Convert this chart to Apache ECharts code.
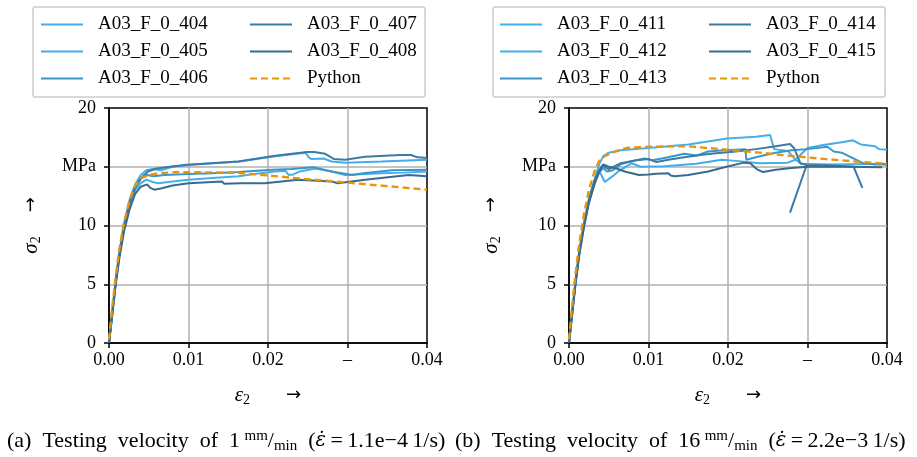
<!DOCTYPE html>
<html>
<head>
<meta charset="utf-8">
<script src="https://cdn.jsdelivr.net/npm/echarts@6/dist/echarts.min.js"></script>
<style>
  html, body { margin: 0; padding: 0; background: #fff; }
  #chart { width: 917px; height: 457px; }
</style>
</head>
<body>
<div id="chart"></div>
<script>
// Stress-strain curves of the A03_F_0 specimens at two testing velocities.
const xTickLabels = ['0.00', '0.01', '0.02', '–', '0.04'];
const yTickLabels = ['0', '5', '10', 'MPa', '20'];

const namesA = ['A03_F_0_404', 'A03_F_0_405', 'A03_F_0_406', 'A03_F_0_407', 'A03_F_0_408', 'Python'];
const namesB = ['A03_F_0_411', 'A03_F_0_412', 'A03_F_0_413', 'A03_F_0_414', 'A03_F_0_415', 'Python '];

// [strain, stress in MPa] – 1 mm/min
const s404 = [[0,0],[0.0004,2.4],[0.0008,4.9],[0.0013,7.5],[0.0019,9.9],[0.0026,11.9],[0.0033,13.0],[0.004,13.6],[0.0047,13.9],[0.0055,13.7],[0.0062,13.6],[0.008,13.75],[0.01,13.9],[0.013,14.05],[0.0163,14.2],[0.019,14.45],[0.0209,14.6],[0.0222,14.65],[0.0226,14.3],[0.0232,14.35],[0.024,14.6],[0.026,14.85],[0.028,14.6],[0.0297,14.3],[0.0343,14.45],[0.037,14.5],[0.04,14.6]];
const s405 = [[0,0],[0.0004,2.6],[0.0008,5.1],[0.0013,7.8],[0.0019,10.2],[0.0026,12.2],[0.0033,13.5],[0.004,14.3],[0.0047,14.7],[0.0055,14.8],[0.0065,14.7],[0.008,15.0],[0.01,15.15],[0.0163,15.45],[0.0209,15.9],[0.0247,16.2],[0.0252,15.75],[0.0255,15.65],[0.027,15.7],[0.028,15.45],[0.0297,15.35],[0.0343,15.45],[0.04,15.6]];
const s406 = [[0,0],[0.0004,2.5],[0.0008,5.0],[0.0013,7.6],[0.0019,10.0],[0.0026,12.0],[0.0033,13.3],[0.004,14.0],[0.0048,14.3],[0.0056,14.2],[0.007,14.3],[0.01,14.38],[0.013,14.45],[0.0163,14.55],[0.0205,14.75],[0.023,14.8],[0.0257,14.95],[0.028,14.6],[0.0306,14.3],[0.032,14.45],[0.0356,14.7],[0.04,14.75]];
const s407 = [[0,0],[0.0004,2.5],[0.0008,4.9],[0.0013,7.5],[0.0019,9.9],[0.0026,11.9],[0.0033,13.2],[0.004,14.0],[0.0049,14.6],[0.006,14.85],[0.0079,15.03],[0.0098,15.17],[0.0163,15.45],[0.0209,15.94],[0.0249,16.25],[0.0258,16.25],[0.0272,16.1],[0.0283,15.65],[0.0297,15.6],[0.0322,15.85],[0.0366,16.0],[0.038,16.0],[0.0388,15.8],[0.04,15.75]];
const s408 = [[0,0],[0.0004,2.3],[0.0008,4.7],[0.0013,7.2],[0.0019,9.5],[0.0026,11.4],[0.0033,12.7],[0.004,13.3],[0.0048,13.5],[0.0052,13.2],[0.0057,13.05],[0.0065,13.15],[0.008,13.4],[0.01,13.6],[0.0142,13.75],[0.0145,13.55],[0.0165,13.6],[0.0196,13.6],[0.0238,13.9],[0.028,13.75],[0.0288,13.6],[0.0322,13.9],[0.0377,14.3],[0.04,14.2]];
const pyA = [[0,0.3],[0.0004,3.0],[0.0008,5.4],[0.0013,8.0],[0.0019,10.3],[0.0026,12.2],[0.0033,13.4],[0.004,14.0],[0.005,14.3],[0.0065,14.47],[0.0089,14.55],[0.0125,14.52],[0.0163,14.47],[0.0199,14.27],[0.024,14.0],[0.0291,13.7],[0.035,13.35],[0.04,13.05]];

// [strain, stress in MPa] – 16 mm/min
const s411 = [[0,0],[0.0004,2.7],[0.0008,5.2],[0.0013,7.9],[0.0019,10.3],[0.0025,12.3],[0.0032,13.9],[0.0038,15.2],[0.0043,15.9],[0.005,16.2],[0.0065,16.4],[0.01,16.6],[0.015,16.9],[0.0199,17.4],[0.0235,17.55],[0.0253,17.7],[0.0258,16.5],[0.0275,16.35],[0.0285,15.6],[0.0292,15.25],[0.033,15.2],[0.04,15.25]];
const s412 = [[0,0],[0.0004,2.6],[0.0008,5.1],[0.0013,7.8],[0.0019,10.2],[0.0025,12.1],[0.0032,13.6],[0.0037,14.6],[0.004,14.4],[0.0045,13.7],[0.0055,14.2],[0.0062,14.6],[0.0079,15.3],[0.009,15.0],[0.012,15.05],[0.016,15.25],[0.0192,15.6],[0.021,15.5],[0.024,15.3],[0.0275,15.35],[0.0285,15.6],[0.03,16.6],[0.032,16.85],[0.0345,17.1],[0.0357,17.25],[0.0367,16.9],[0.0385,16.75],[0.039,16.5],[0.04,16.45]];
const s413 = [[0,0],[0.0004,2.5],[0.0008,5.0],[0.0013,7.7],[0.0019,10.1],[0.0025,12.0],[0.0032,13.6],[0.0038,14.5],[0.0043,14.9],[0.0048,14.6],[0.0055,14.7],[0.0065,15.2],[0.008,15.5],[0.0095,15.7],[0.0105,15.55],[0.012,15.75],[0.0135,15.95],[0.0145,16.1],[0.016,15.95],[0.0175,16.3],[0.0195,16.4],[0.0222,16.5],[0.0223,15.6],[0.024,15.9],[0.026,16.2],[0.028,16.4],[0.03,16.5],[0.0325,16.7],[0.0333,16.3],[0.0343,16.2],[0.0355,15.8],[0.037,15.3],[0.0385,15.2],[0.04,15.2]];
const s414 = [[0,0],[0.0004,2.6],[0.0008,5.0],[0.0013,7.7],[0.0019,10.1],[0.0025,12.1],[0.0032,13.8],[0.0038,14.7],[0.0042,15.1],[0.005,14.8],[0.0065,15.3],[0.0085,15.55],[0.01,15.65],[0.011,15.4],[0.0125,15.6],[0.0145,15.8],[0.0165,16.0],[0.0185,16.15],[0.021,16.3],[0.0235,16.5],[0.026,16.75],[0.0278,16.93],[0.0283,16.6],[0.0291,15.3],[0.0299,15.15],[0.0299,'-'],[0.0278,11.1],[0.0299,15.15],[0.033,15.1],[0.0358,15.0],[0.0369,13.2]];
const s415 = [[0,0],[0.0004,2.4],[0.0008,4.9],[0.0013,7.5],[0.0019,9.9],[0.0025,11.9],[0.0032,13.5],[0.0038,14.6],[0.0043,15.2],[0.005,15.0],[0.006,14.85],[0.007,14.6],[0.0088,14.3],[0.01,14.35],[0.011,14.4],[0.0125,14.45],[0.0128,14.25],[0.0133,14.2],[0.015,14.3],[0.0175,14.6],[0.0198,15.0],[0.022,15.35],[0.0228,15.3],[0.0236,14.8],[0.0244,14.55],[0.026,14.75],[0.028,14.9],[0.03,15.0],[0.035,15.0],[0.0394,14.95]];
const pyB = [[0,0.3],[0.0004,3.2],[0.0008,5.8],[0.0013,8.5],[0.0019,11.0],[0.0025,13.0],[0.0032,14.6],[0.0038,15.5],[0.0045,15.9],[0.006,16.35],[0.0073,16.6],[0.01,16.7],[0.0148,16.75],[0.0199,16.45],[0.024,16.2],[0.0282,15.9],[0.0324,15.65],[0.036,15.45],[0.04,15.25]];

// sub-figure captions
const captionA = '(a)\u2002Testing\u2002velocity\u2002of\u20021\u2009{sup|mm}{sl|/}{sub|min}\u2002({i|\u03b5\u0307}\u2009=\u20091.1e\u22124\u20091/s)';
const captionB = '(b)\u2002Testing\u2002velocity\u2002of\u200216\u2009{sup|mm}{sl|/}{sub|min}\u2002({i|\u03b5\u0307}\u2009=\u20092.2e\u22123\u20091/s)';

const FONT = "'Liberation Serif', 'DejaVu Serif', serif";
const lineColors = ['#44b0e9', '#42ade8', '#3a95cb', '#3b7ba4', '#386b8c'];
const pyColor = '#e8950c';

const nameRich = {
  i: { fontFamily: FONT, fontStyle: 'italic', fontSize: 21, lineHeight: 24, verticalAlign: 'middle', color: '#000' },
  s: { fontFamily: FONT, fontSize: 14, lineHeight: 13, verticalAlign: 'bottom', color: '#000' },
};

function xAxisFor(gi) {
  return {
    type: 'value', gridIndex: gi, min: 0, max: 0.04, interval: 0.01,
    name: '{i|\u03b5}{s|2}{a|\u2192}', nameLocation: 'middle', nameGap: 40,
    nameTextStyle: { rich: Object.assign({ a: { fontFamily: 'DejaVu Sans', fontSize: 18, lineHeight: 24, verticalAlign: 'middle', padding: [0, 0, 0, 36], color: '#000' } }, nameRich) },
    axisLine: { show: true, onZero: false, lineStyle: { color: '#000', width: 1.5 } },
    axisTick: { show: true, inside: false, length: 5, lineStyle: { color: '#000', width: 1.5 } },
    axisLabel: { margin: 8, color: '#000', fontFamily: FONT, fontSize: 18,
      formatter: v => xTickLabels[Math.round(v / 0.01)] },
    splitLine: { show: true, showMinLine: false, showMaxLine: false, lineStyle: { color: '#b0b0b0', width: 1.5 } },
  };
}
function yAxisFor(gi) {
  return {
    type: 'value', gridIndex: gi, min: 0, max: 20, interval: 5,
    name: '{i|\u03c3}{s|2}{a|\u2192}', nameLocation: 'middle', nameGap: 66, nameRotate: 90,
    nameTextStyle: { rich: Object.assign({ a: { fontFamily: 'DejaVu Sans', fontSize: 18, lineHeight: 24, verticalAlign: 'middle', padding: [0, 0, 0, 24], color: '#000' } }, nameRich) },
    axisLine: { show: true, onZero: false, lineStyle: { color: '#000', width: 1.5 } },
    axisTick: { show: true, inside: false, length: 5, lineStyle: { color: '#000', width: 1.5 } },
    axisLabel: { margin: 13, color: '#000', fontFamily: FONT, fontSize: 18,
      formatter: v => yTickLabels[Math.round(v / 5)] },
    splitLine: { show: true, showMinLine: false, showMaxLine: false, lineStyle: { color: '#b0b0b0', width: 1.5 } },
  };
}

function curve(name, data, gi, color) {
  return { name, type: 'line', xAxisIndex: gi, yAxisIndex: gi, data, showSymbol: false, symbol: 'none',
    connectNulls: false, color, lineStyle: { color, width: 2 }, animation: false };
}
function pyCurve(name, data, gi) {
  return { name, type: 'line', xAxisIndex: gi, yAxisIndex: gi, data, showSymbol: false, symbol: 'none',
    color: pyColor, lineStyle: { color: pyColor, width: 2.4, type: [7, 4] }, z: 3, animation: false };
}

const seriesA = [s404, s405, s406, s407, s408].map((d, k) => curve(namesA[k], d, 0, lineColors[k]));
seriesA.push(pyCurve(namesA[5], pyA, 0));
const seriesB = [s411, s412, s413, s414, s415].map((d, k) => curve(namesB[k], d, 1, lineColors[k]));
seriesB.push(pyCurve(namesB[5], pyB, 1));

function legendFor(left, names) {
  return {
    orient: 'vertical', left, top: 11, height: 82, padding: 0, itemGap: 0,
    itemWidth: 42, itemHeight: 14, data: names,
    itemStyle: { opacity: 0 },
    formatter: n => n.trim(),
    textStyle: { fontFamily: FONT, fontSize: 19, color: '#000', lineHeight: 27, width: 151, padding: [0, 0, 0, 10] },
  };
}

const captionRich = {
  sup: { fontFamily: FONT, fontSize: 15, lineHeight: 26, verticalAlign: 'top', padding: [1, 0, 0, 0] },
  sl: { fontFamily: FONT, fontSize: 22, lineHeight: 26 },
  sub: { fontFamily: FONT, fontSize: 15, lineHeight: 26, verticalAlign: 'bottom' },
  i: { fontFamily: "'DejaVu Serif', serif", fontStyle: 'italic', fontSize: 19.5, lineHeight: 26 },
};

const chart = echarts.init(document.getElementById('chart'), null, { renderer: 'canvas' });
chart.setOption({
  animation: false,
  backgroundColor: '#fff',
  textStyle: { fontFamily: FONT },
  grid: [
    { left: 109, top: 108, width: 318, height: 235, show: true, borderColor: '#000', borderWidth: 1.5, backgroundColor: 'transparent' },
    { left: 569, top: 108, width: 318, height: 235, show: true, borderColor: '#000', borderWidth: 1.5, backgroundColor: 'transparent' },
  ],
  xAxis: [xAxisFor(0), xAxisFor(1)],
  yAxis: [yAxisFor(0), yAxisFor(1)],
  legend: [legendFor(40, namesA), legendFor(499, namesB)],
  graphic: [
    { type: 'rect', shape: { x: 33, y: 7, width: 392, height: 90, r: 2 }, style: { fill: 'none', stroke: '#cccccc', lineWidth: 1.5 }, silent: true },
    { type: 'rect', shape: { x: 493, y: 7, width: 392, height: 90, r: 2 }, style: { fill: 'none', stroke: '#cccccc', lineWidth: 1.5 }, silent: true },
    { type: 'text', left: 7, top: 428, style: { text: captionA, fontFamily: FONT, fontSize: 22, lineHeight: 26, fill: '#000', rich: captionRich } },
    { type: 'text', left: 455, top: 428, style: { text: captionB, fontFamily: FONT, fontSize: 22, lineHeight: 26, fill: '#000', rich: captionRich } },
  ],
  series: seriesA.concat(seriesB),
});
</script>
</body>
</html>
